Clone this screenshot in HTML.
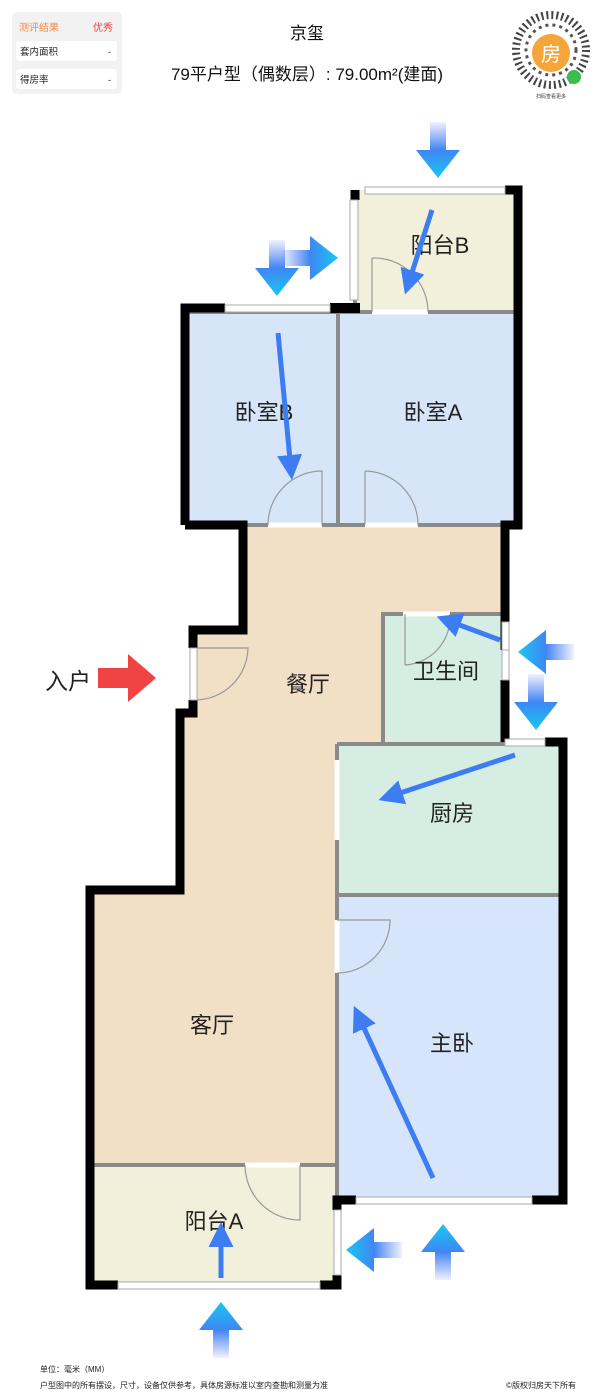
<!DOCTYPE html>
<html><head><meta charset="utf-8"><style>
html,body{margin:0;padding:0;background:#fff;width:614px;height:1400px;overflow:hidden}
text{font-family:"Liberation Sans","Noto Sans CJK SC",sans-serif}
</style></head><body>
<svg width="614" height="1400" viewBox="0 0 614 1400" xmlns="http://www.w3.org/2000/svg">
<defs>
<linearGradient id="g" x1="0" y1="0" x2="0" y2="1">
<stop offset="0" stop-color="#18c8ef"/><stop offset="0.5" stop-color="#3f86f5"/><stop offset="1" stop-color="#5a7ff5" stop-opacity="0.1"/>
</linearGradient>
<path id="ar" d="M0,-28 L22,0 L8,0 L8,28 L-8,28 L-8,0 L-22,0 Z" fill="url(#g)"/>
<marker id="mh" viewBox="0 0 10 10" refX="6" refY="5" markerWidth="5" markerHeight="5" orient="auto"><path d="M0,0 L10,5 L0,10 Z" fill="#3e7cf2"/></marker>
</defs>

<rect x="12" y="12" width="110" height="82" rx="5" fill="#f2f2f2"/>
<text x="19" y="31" font-size="10" fill="#f08a4b">测评结果</text>
<text x="93" y="31" font-size="10" fill="#e84040">优秀</text>
<rect x="16" y="41" width="101" height="20" rx="3" fill="#fff"/>
<text x="20" y="55" font-size="9.5" fill="#222">套内面积</text><text x="108" y="55" font-size="9" fill="#222">-</text>
<rect x="16" y="69" width="101" height="20" rx="3" fill="#fff"/>
<text x="20" y="83" font-size="9.5" fill="#222">得房率</text><text x="108" y="83" font-size="9" fill="#222">-</text>
<text x="307" y="39" font-size="17" text-anchor="middle" fill="#111">京玺</text>
<text x="307" y="80" font-size="17" text-anchor="middle" fill="#111">79平户型（偶数层）: 79.00m²(建面)</text>
<circle cx="551" cy="50" r="35" fill="none" stroke="#444" stroke-width="8" stroke-dasharray="2 3"/>
<circle cx="551" cy="50" r="25" fill="none" stroke="#555" stroke-width="3" stroke-dasharray="3 4"/>
<circle cx="551" cy="53" r="19" fill="#f5a63a"/>
<text x="551" y="61" font-size="20" text-anchor="middle" fill="#fff">房</text>
<circle cx="574" cy="77" r="7" fill="#3dbb4b"/>
<text x="551" y="98" font-size="5" text-anchor="middle" fill="#333">扫码查看更多</text>

<rect x="355" y="190" width="162" height="122" fill="#f2f0da"/>
<rect x="185" y="310" width="153" height="215" fill="#d6e5f8"/>
<rect x="338" y="310" width="180" height="215" fill="#d6e5f8"/>
<path d="M243,525 L505,525 L505,612 L383,612 L383,742 L337,742 L337,1165 L90,1165 L90,890 L180,890 L180,713 L193,713 L193,630 L243,630 Z" fill="#f1dfc6"/>
<rect x="383" y="612" width="122" height="130" fill="#d5ede2"/>
<rect x="337" y="742" width="226" height="153" fill="#d5ede2"/>
<rect x="337" y="895" width="226" height="305" fill="#d7e5fa"/>
<rect x="90" y="1165" width="247" height="120" fill="#f2f0da"/>

<g stroke="#8a8a8a" stroke-width="4" fill="none">
<line x1="338" y1="310" x2="338" y2="525"/>
<line x1="185" y1="312" x2="518" y2="312"/>
<line x1="243" y1="525" x2="505" y2="525"/>
<line x1="383" y1="612" x2="383" y2="742"/>
<line x1="383" y1="614" x2="505" y2="614"/>
<line x1="337" y1="744" x2="563" y2="744"/>
<line x1="337" y1="744" x2="337" y2="1200"/>
<line x1="337" y1="895" x2="563" y2="895"/>
<line x1="90" y1="1165" x2="337" y2="1165"/>
<line x1="355" y1="190" x2="355" y2="310"/>
</g>
<g stroke="#fff" stroke-width="5">
<line x1="268" y1="525" x2="322" y2="525"/><line x1="365" y1="525" x2="418" y2="525"/>
<line x1="372" y1="312" x2="428" y2="312"/>
<line x1="403" y1="614" x2="450" y2="614"/>
<line x1="337" y1="920" x2="337" y2="973"/>
<line x1="245" y1="1165" x2="300" y2="1165"/>
<line x1="337" y1="760" x2="337" y2="840"/>
</g>
<g stroke="#999" stroke-width="1.2" fill="none">
<path d="M268,525 A54,54 0 0 1 322,471 L322,525"/>
<path d="M365,471 L365,525 M365,471 A54,54 0 0 1 418,525"/>
<path d="M372,258 L372,312 M372,258 A54,54 0 0 1 428,312"/>
<path d="M405,614 L405,665 M405,665 A48,48 0 0 0 450,614"/>
<path d="M337,920 L390,920 A53,53 0 0 1 337,973"/>
<path d="M245,1165 A55,55 0 0 0 300,1220 L300,1165"/>
<path d="M195,648 L248,648 A53,53 0 0 1 195,700"/>
</g>

<g stroke="#000" stroke-width="9" fill="none" stroke-linejoin="miter">
<polyline points="185,360 185,308 225,308"/>
<line x1="185" y1="308" x2="185" y2="525"/>
<polyline points="185,525 243,525 243,630 193,630 193,648"/>
<polyline points="193,700 193,713 180,713 180,890 90,890 90,1285 118,1285"/>
<polyline points="320,1285 337,1285 337,1275"/>
<polyline points="337,1210 337,1200 356,1200"/>
<polyline points="532,1200 563,1200 563,742 545,742"/>
<polyline points="505,742 505,680"/>
<polyline points="505,650 505,525 518,525 518,312"/>
<polyline points="518,312 518,190 505,190"/>
<polyline points="355,190 355,200"/>
</g>
<rect x="330" y="303" width="30" height="10" fill="#000"/>
<g fill="#fff" stroke="#aaa" stroke-width="1">
<rect x="365" y="187" width="140" height="7"/>
<rect x="350" y="200" width="8" height="100"/>
<rect x="225" y="305" width="105" height="7"/>
<rect x="502" y="622" width="7" height="50"/>
<rect x="505" y="739" width="40" height="7"/>
<rect x="356" y="1197" width="176" height="7"/>
<rect x="118" y="1282" width="202" height="7"/>
<rect x="334" y="1210" width="7" height="65"/>
<rect x="190" y="648" width="7" height="52"/>
</g>
<rect x="502" y="650" width="7" height="30" fill="#fff" stroke="#aaa"/>

<g font-size="22" fill="#222" text-anchor="middle">
<text x="440" y="253">阳台B</text>
<text x="264" y="420">卧室B</text>
<text x="433" y="420">卧室A</text>
<text x="308" y="692">餐厅</text>
<text x="446" y="679">卫生间</text>
<text x="452" y="821">厨房</text>
<text x="212" y="1033">客厅</text>
<text x="452" y="1051">主卧</text>
<text x="214" y="1229">阳台A</text>
<text x="68" y="689" font-size="23">入户</text>
</g>

<g stroke="#3e7cf2" stroke-width="5" fill="none" marker-end="url(#mh)">
<line x1="432" y1="210" x2="408" y2="285"/>
<line x1="278" y1="333" x2="291" y2="470"/>
<line x1="500" y1="640" x2="446" y2="620"/>
<line x1="515" y1="755" x2="388" y2="797"/>
<line x1="433" y1="1178" x2="358" y2="1015"/>
<line x1="221" y1="1278" x2="221" y2="1232"/>
</g>

<use href="#ar" transform="translate(438,150) rotate(180)"/>
<use href="#ar" transform="translate(277,268) rotate(180)"/>
<use href="#ar" transform="translate(310,258) rotate(90)"/>
<use href="#ar" transform="translate(546,652) rotate(-90)"/>
<use href="#ar" transform="translate(536,702) rotate(180)"/>
<use href="#ar" transform="translate(374,1250) rotate(-90)"/>
<use href="#ar" transform="translate(443,1252)"/>
<use href="#ar" transform="translate(221,1330)"/>
<path d="M156,678 L128,654 L128,668 L98,668 L98,688 L128,688 L128,702 Z" fill="#f04444"/>

<text x="40" y="1372" font-size="8" fill="#222">单位：毫米（MM）</text>
<text x="40" y="1388" font-size="8" fill="#222">户型图中的所有摆设，尺寸，设备仅供参考，具体房源标准以室内查勘和测量为准</text>
<text x="576" y="1388" font-size="8" fill="#222" text-anchor="end">©版权归房天下所有</text>
</svg>
</body></html>
